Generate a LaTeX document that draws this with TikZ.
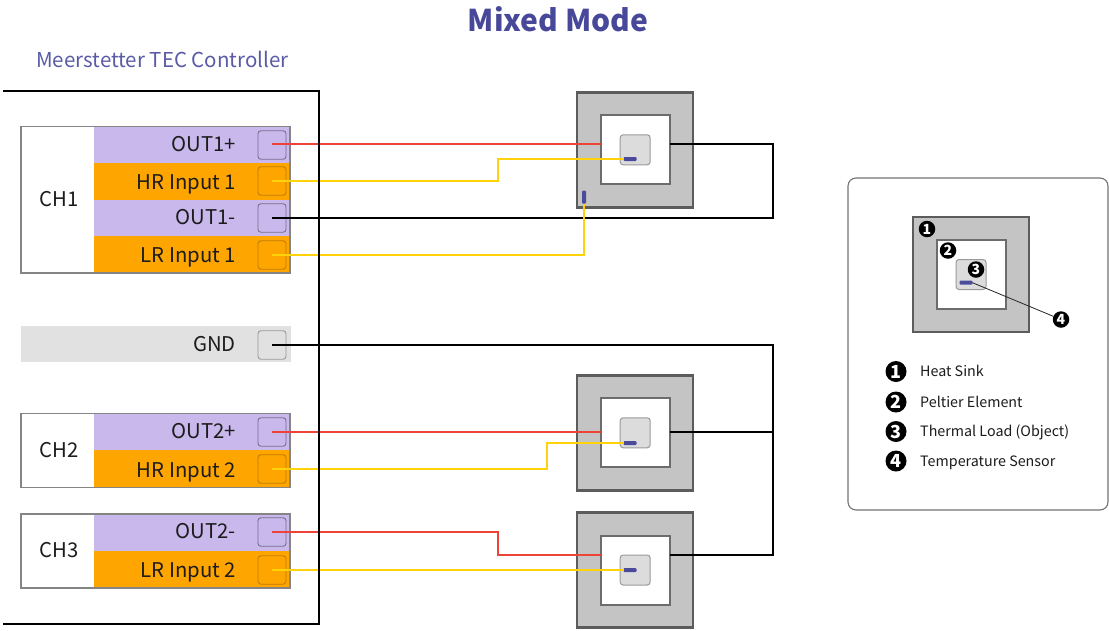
\documentclass[tikz,border=0pt]{standalone}
\usepackage{fontspec}
\setmainfont{Noto Sans CJK SC}
\definecolor{titlec}{HTML}{48489A}
\definecolor{subc}{HTML}{5A5AA6}
\definecolor{lilac}{HTML}{C8B8EC}
\definecolor{amber}{HTML}{FFA500}
\definecolor{band}{HTML}{E1E1E1}
\definecolor{sink}{HTML}{C4C4C4}
\definecolor{sinkb}{HTML}{5C5C5C}
\definecolor{peltb}{HTML}{6C6C6C}
\definecolor{loadc}{HTML}{DCDCDC}
\definecolor{loadb}{HTML}{9A9A9A}
\definecolor{sens}{HTML}{4B4B9B}
\definecolor{wred}{HTML}{EE4338}
\definecolor{wyel}{HTML}{FFD20A}
\definecolor{lab}{HTML}{1C1C1C}
\tikzset{
  box/.style={rectangle,inner sep=0pt,outer sep=0pt},
  chbox/.style={box,draw=black!48,fill=white,line width=1.1pt},
  chedge/.style={draw=black!48,line width=1.1pt},
  rowb/.style={box,minimum width=196pt},
  rowlab/.style={inner sep=0pt,anchor=base east,font=\fontsize{20.3}{24}\selectfont,text=lab},
  chlab/.style={inner sep=0pt,anchor=base,font=\fontsize{20.3}{24}\selectfont,text=lab},
  portl/.style={box,draw=black!40!lilac,rounded corners=3pt,line width=0.9pt,minimum width=28pt,minimum height=28.5pt},
  porto/.style={box,draw=black!25!amber,rounded corners=3pt,line width=0.9pt,minimum width=28pt,minimum height=28.5pt},
  portg/.style={box,draw=black!40,rounded corners=3pt,line width=0.9pt,minimum width=28pt,minimum height=28.5pt},
  sinkn/.style={box,fill=sink,draw=sinkb,line width=2.4pt,minimum width=116pt,minimum height=115pt},
  pelt/.style={box,fill=white,draw=peltb,line width=2pt,minimum width=69pt,minimum height=69pt},
  loadn/.style={box,fill=loadc,draw=loadb,line width=1pt,rounded corners=3pt,minimum width=30pt,minimum height=30pt},
  sensh/.style={box,fill=sens,rounded corners=1pt,minimum width=13pt,minimum height=4pt},
  sensv/.style={box,fill=sens,rounded corners=1pt,minimum width=4pt,minimum height=13pt},
  wr/.style={draw=wred,line width=2.2pt},
  wy/.style={draw=wyel,line width=2.2pt},
  wk/.style={draw=black,line width=2.2pt},
  badge/.style={circle,fill=black,text=white,inner sep=0pt,minimum size=16.5pt,font=\fontsize{14}{14}\selectfont\bfseries},
  lbadge/.style={circle,fill=black,text=white,inner sep=0pt,minimum size=21pt,font=\fontsize{18}{18}\selectfont\bfseries},
  ltxt/.style={inner sep=0pt,anchor=base west,font=\fontsize{14.3}{17}\selectfont,text=lab},
}
% name, row centre y, row height, text, baseline, port centre y
\newcommand{\RowL}[6]{%
  \node[rowb,fill=lilac,minimum height=#3pt] (r#1) at (192,#2) {};
  \node[rowlab] (t#1) at (236,#5) {#4};
  \node[portl] (p#1) at (272,#6) {};}
\newcommand{\RowO}[6]{%
  \node[rowb,fill=amber,minimum height=#3pt] (r#1) at (192,#2) {};
  \node[rowlab] (t#1) at (236,#5) {#4};
  \node[porto] (p#1) at (272,#6) {};}
\newcommand{\Unit}[2]{% name, y centre
  \node[sinkn] (h#1) at (635.2,#2) {};
  \node[pelt] (e#1) at (635.2,#2) {};
  \node[loadn] (l#1) at (635.2,#2) {};}
\begin{document}
\begin{tikzpicture}[x=1pt,y=-1pt]
\useasboundingbox (0,0) rectangle (1109,630);
\node[inner sep=0pt,font=\fontsize{30}{34}\selectfont\bfseries,text=titlec] (title) at (558,19) {Mixed Mode};
\node[inner sep=0pt,anchor=base west,font=\fontsize{20.5}{24}\selectfont,text=subc] (ctrl) at (36,67) {Meerstetter TEC Controller};
% channel frames
\node[chbox,minimum width=269pt,minimum height=146.5pt] (ch1) at (155.5,199.7) {};
\node[chlab] (c1) at (59,206.7) {CH1};
\node[chbox,minimum width=269pt,minimum height=74pt] (ch2) at (155.5,450.5) {};
\node[chlab] (c2) at (59,457.3) {CH2};
\node[chbox,minimum width=269pt,minimum height=74pt] (ch3) at (155.5,551) {};
\node[chlab] (c3) at (59,557.7) {CH3};
% rows
\RowL{a}{145}{36.6}{OUT1+}{151}{145}
\RowO{b}{181.3}{36.6}{HR Input 1}{189}{181}
\RowL{c}{217.9}{36.6}{OUT1-}{224.5}{218}
\RowO{d}{254.5}{36.6}{LR Input 1}{262}{255}
\node[box,fill=band,minimum width=270pt,minimum height=36.5pt] (rgnd) at (156,344.2) {};
\node[rowlab] (tgnd) at (236,351.5) {GND};
\node[portg] (pgnd) at (272,345) {};
\RowL{e}{432}{37.2}{OUT2+}{438}{432}
\RowO{f}{469}{37.2}{HR Input 2}{477.3}{469}
\RowL{g}{532.5}{37.2}{OUT2-}{538.3}{532}
\RowO{h}{569.5}{37.2}{LR Input 2}{577.3}{570}
\draw[chedge] (ch1.north west) rectangle (ch1.south east);
\draw[chedge] (ch2.north west) rectangle (ch2.south east);
\draw[chedge] (ch3.north west) rectangle (ch3.south east);
% thermal units
\Unit{a}{149.8}
\Unit{b}{432.8}
\Unit{c}{570}
\node[sensh] (sa) at (630,159) {};
\node[sensv] (sv) at (584,197) {};
\node[sensh] (sb) at (630,443) {};
\node[sensh] (sc) at (630,570) {};
% bend points
\coordinate (ja) at (498,159);
\coordinate (jb) at (547,443);
\coordinate (jc) at (498,555);
\coordinate (ka) at (773,218);
\coordinate (ea) at (670,144);
\coordinate (eb) at (670,432);
\coordinate (ec) at (670,555);
\coordinate (ra) at (600.5,144);
\coordinate (rb) at (600.5,432);
\coordinate (rc) at (600.5,555);
\coordinate (kg) at (773,345);
\coordinate (kb) at (773,432);
\coordinate (kc) at (773,555);
% wires
\draw[wr] (pa.center |- ra) -- (ra);
\draw[wy] (pb.center) -| (ja) -- (sa.west);
\draw[wk] (pc.center) -- (ka) -- (ka |- ea) -- (ea);
\draw[wy] (pd.center) -| (sv.south);
\draw[wk] (pgnd.center) -- (kg) -- (kc) -- (ec);
\draw[wk] (kb) -- (eb);
\draw[wr] (pe.center) -- (rb);
\draw[wy] (pf.center) -| (jb) -- (sb.west);
\draw[wr] (pg.center) -| (jc) -- (rc);
\draw[wy] (ph.center) -- (sc.west);
% controller outline
\draw[black,line width=2.2pt] (3,91) -- (319,91) -- (319,624) -- (3,624);
% legend
\node[box,draw=black!55,fill=white,line width=1.1pt,rounded corners=8pt,minimum width=260pt,minimum height=332pt] (legend) at (978,344) {};
\node[sinkn] (hl) at (971,274.5) {};
\node[pelt] (el) at (971,274.3) {};
\node[loadn] (ll) at (971,274.5) {};
\node[sensh] (sl) at (966,282.7) {};
\node[badge] (b1) at (927,229) {1};
\node[badge] (b2) at (948,250.5) {2};
\node[badge] (b3) at (976,269.5) {3};
\node[badge] (b4) at (1061,319.5) {4};
\draw[black!85,line width=0.8pt] (sl.east) -- (b4);
\node[lbadge] (k1) at (896,371.5) {1};
\node[lbadge] (k2) at (896,402) {2};
\node[lbadge] (k3) at (896,431.5) {3};
\node[lbadge] (k4) at (896,461) {4};
\node[ltxt] (n1) at (920,376.5) {Heat Sink};
\node[ltxt] (n2) at (920,407) {Peltier Element};
\node[ltxt] (n3) at (920,436.5) {Thermal Load (Object)};
\node[ltxt] (n4) at (920,466) {Temperature Sensor};
\end{tikzpicture}
\end{document}
